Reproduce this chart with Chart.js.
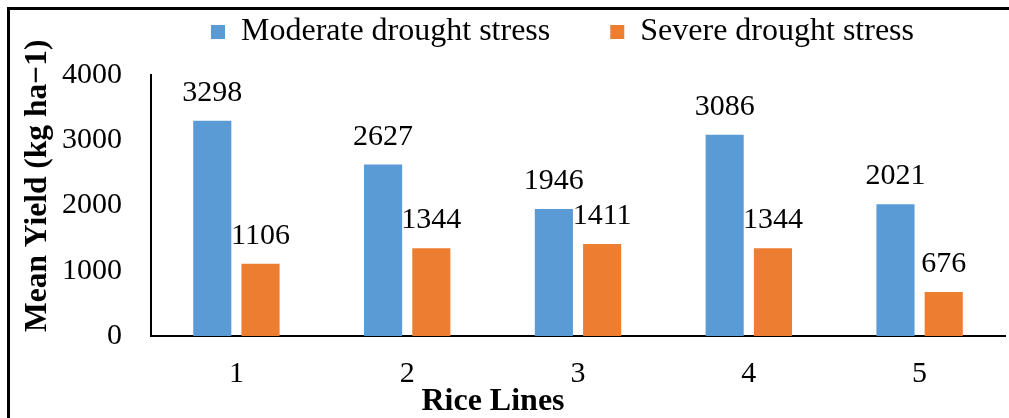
<!DOCTYPE html>
<html>
<head>
<meta charset="utf-8">
<script src="https://cdn.jsdelivr.net/npm/chart.js@4"></script>
<style>
  html, body { margin: 0; padding: 0; background: #fff; overflow: hidden; }
  #wrap { position: relative; width: 1009px; height: 418px; }
  #frame { position: absolute; left: 7px; top: 7px; width: 1100px; height: 500px; border: 3px solid #000; box-sizing: border-box; pointer-events: none; }
  canvas { position: absolute; left: 0; top: 0; }
</style>
</head>
<body>
<div id="wrap">
  <canvas id="c" width="1009" height="418"></canvas>
  <div id="frame"></div>
</div>
<script>
const categories = ['1', '2', '3', '4', '5'];
const seriesNames = ['Moderate drought stress', 'Severe drought stress'];
const moderate = [3298, 2627, 1946, 3086, 2021];
const severe = [1106, 1344, 1411, 1344, 676];
const yTicks = [0, 1000, 2000, 3000, 4000];

const FAM = "'Liberation Serif', 'Times New Roman', serif";
const FS = 30;

const valueLabels = {
  id: 'valueLabels',
  afterDatasetsDraw(chart) {
    const ctx = chart.ctx;
    ctx.save();
    ctx.font = FS + 'px ' + FAM;
    ctx.fillStyle = '#000';
    ctx.textAlign = 'center';
    ctx.textBaseline = 'alphabetic';
    chart.data.datasets.forEach((ds, di) => {
      const meta = chart.getDatasetMeta(di);
      meta.data.forEach((el, i) => {
        ctx.fillText(String(ds.data[i]), el.x, el.y - 20);
      });
    });
    ctx.restore();
  }
};

const shiftBlocks = {
  id: 'shiftBlocks',
  afterLayout(chart) {
    const lg = chart.legend;
    if (lg) { lg.left += 60; lg.right += 60; lg.top -= 44; }
    const tb = chart.titleBlock;
    if (tb) { tb.left -= 19; }
  }
};

new Chart(document.getElementById('c'), {
  type: 'bar',
  data: {
    labels: categories,
    datasets: [
      { label: seriesNames[0], data: moderate, backgroundColor: '#5B9BD5', categoryPercentage: 0.565, barPercentage: 0.79 },
      { label: seriesNames[1], data: severe, backgroundColor: '#ED7D31', categoryPercentage: 0.565, barPercentage: 0.79 }
    ]
  },
  options: {
    responsive: false,
    animation: false,
    layout: { padding: { top: 0, left: 0, right: 4, bottom: 0 } },
    plugins: {
      tooltip: { enabled: false },
      legend: {
        position: 'top',
        maxHeight: 75,
        labels: {
          boxWidth: 14, boxHeight: 14, padding: 60,
          color: '#000',
          font: { family: FAM, size: 32 }
        }
      },
      title: {
        display: true,
        position: 'bottom',
        text: 'Rice Lines',
        color: '#000',
        font: { family: FAM, size: 32, weight: 'bold', lineHeight: 1.0 },
        padding: { top: 0, bottom: 0 }
      }
    },
    scales: {
      x: {
        grid: { display: false, drawTicks: false },
        border: { display: true, color: '#000', width: 2 },
        ticks: { color: '#000', font: { family: FAM, size: FS }, padding: 20 },
        afterFit(s) { s.height = 50; }
      },
      y: {
        min: 0, max: 4000,
        afterBuildTicks(s) { s.ticks = yTicks.map(v => ({ value: v })); },
        grid: { display: false, drawTicks: false },
        border: { display: true, color: '#000', width: 2 },
        ticks: { color: '#000', font: { family: FAM, size: FS }, padding: 29, callback: v => String(v) },
        title: {
          display: true,
          text: '\u00A0\u00A0\u00A0\u00A0\u00A0Mean Yield (kg ha\u22121)',
          color: '#000',
          font: { family: FAM, size: 31.5, weight: 'bold' },
          padding: { top: 19, bottom: 0 }
        },
        afterFit(s) { s.width = 151; }
      }
    }
  },
  plugins: [valueLabels, shiftBlocks]
});
</script>
</body>
</html>
